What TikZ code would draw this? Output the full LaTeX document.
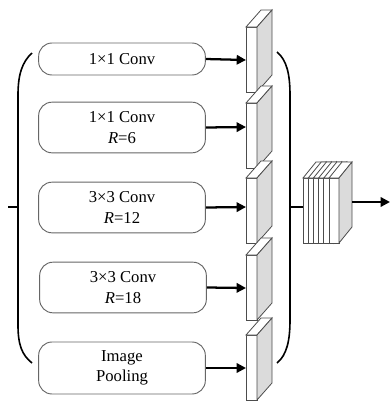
\documentclass[tikz,border=0pt]{standalone}
\usepackage{fontspec}
\setmainfont{Liberation Serif}
\usepackage{tikz}
\usetikzlibrary{arrows.meta}
\tikzset{
	branchstyle/.style={rectangle,rounded corners=10pt,draw=black!60,fill=white,line width=0.7pt,minimum width=125pt,align=center,font=\fontsize{12.5}{15.5}\selectfont},
	frontstyle/.style={draw=black!70,fill=white,line width=0.6pt},
	sidestyle/.style={draw=black!70,fill=white!86!black,line width=0.6pt},
	bracestyle/.style={draw=black,line width=1.2pt},
	flowstyle/.style={line width=1.7pt,-{Triangle[length=7pt,width=7pt]}}
}

\begin{document}
\begin{tikzpicture}[x=0.75pt,y=-0.75pt]
	\useasboundingbox (0,0) rectangle (391,401);
	\node[branchstyle,minimum height=24pt] (b1) at (122,59) {1×1 Conv};
	\node[branchstyle,minimum height=38pt] (b2) at (122,127.5) {1×1 Conv\\\textit{R}=6};
	\node[branchstyle,minimum height=38pt] (b3) at (122,207.5) {3×3 Conv\\\textit{R}=12};
	\node[branchstyle,minimum height=38pt] (b4) at (123,287.5) {3×3 Conv\\\textit{R}=18};
	\node[branchstyle,minimum height=39pt] (b5) at (122,368) {Image\\Pooling};
	% feature maps
	\foreach \i/\t in {1/27,2/103,3/178,4/255,5/335}{
		\draw[frontstyle] (246,\t) rectangle (257,\t+65);
		\draw[frontstyle] (246,\t) -- (261,\t-17) -- (272,\t-17) -- (257,\t) -- cycle;
		\draw[sidestyle] (257,\t) -- (272,\t-17) -- (272,\t+48) -- (257,\t+65) -- cycle;
	}
	\foreach \i/\y in {1/60,2/127,3/207,4/288,5/368}{
		\coordinate (s\i) at (246,\y);
		\draw[flowstyle] (b\i.east) -- (s\i);
	}
	% brackets
	\draw[bracestyle] (32,53) .. controls (22,62) and (18,75) .. (18,95) -- (18,325) .. controls (18,345) and (22,355) .. (32,363);
	\coordinate (in) at (8,207);
	\coordinate (inj) at (18,207);
	\draw[bracestyle] (in) -- (inj);
	\draw[bracestyle] (277,52) .. controls (287,60) and (290,75) .. (290,95) -- (290,320) .. controls (290,340) and (287,355) .. (277,363);
	\coordinate (outj) at (290,207);
	\coordinate (cat) at (303,207);
	\draw[bracestyle] (outj) -- (cat);
	% concatenated block
	\foreach \k in {0,...,5}{
		\pgfmathsetmacro{\xa}{303+5.2*\k}
		\draw[frontstyle] (\xa,178) rectangle (\xa+10,243);
		\draw[frontstyle] (\xa,178) -- (\xa+13,162) -- (\xa+23,162) -- (\xa+10,178) -- cycle;
		\draw[sidestyle] (\xa+10,178) -- (\xa+23,162) -- (\xa+23,227) -- (\xa+10,243) -- cycle;
	}
	\coordinate (blk) at (352,202);
	\coordinate (out) at (390,202);
	\draw[flowstyle] (blk) -- (out);
\end{tikzpicture}
\end{document}
